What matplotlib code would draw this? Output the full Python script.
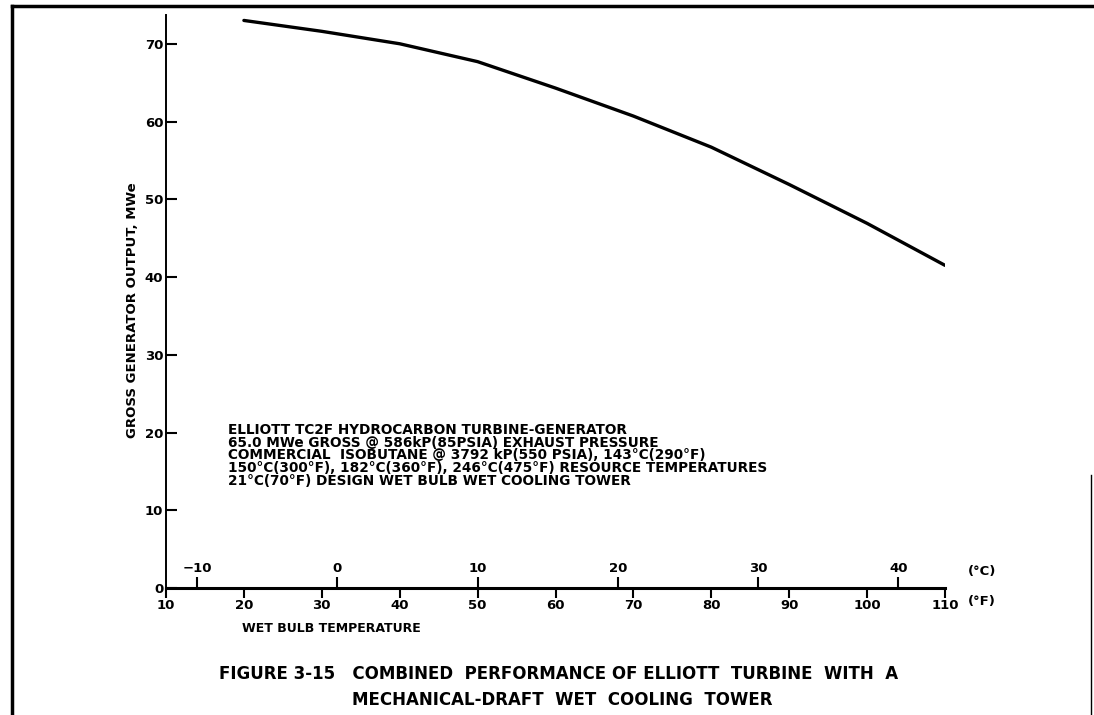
import numpy as np
import matplotlib
matplotlib.use('Agg')
import matplotlib.pyplot as plt
from matplotlib.lines import Line2D

# wet bulb temperature (F) and gross output (MWe)
temp_f = [20, 30, 40, 50, 60, 70, 80, 90, 100, 110]
output_mw = [73.0, 71.6, 70.0, 67.7, 64.3, 60.7, 56.7, 51.9, 46.9, 41.5]

f_ticks = [10, 20, 30, 40, 50, 60, 70, 80, 90, 100, 110]
c_ticks = [-10, 0, 10, 20, 30, 40]
y_ticks = [0, 10, 20, 30, 40, 50, 60, 70]

notes = [
    'ELLIOTT TC2F HYDROCARBON TURBINE-GENERATOR',
    '65.0 MWe GROSS @ 586kP(85PSIA) EXHAUST PRESSURE',
    'COMMERCIAL  ISOBUTANE @ 3792 kP(550 PSIA), 143\u00b0C(290\u00b0F)',
    '150\u00b0C(300\u00b0F), 182\u00b0C(360\u00b0F), 246\u00b0C(475\u00b0F) RESOURCE TEMPERATURES',
    '21\u00b0C(70\u00b0F) DESIGN WET BULB WET COOLING TOWER',
]
note_y = [430, 443, 455, 468, 481]


def f2c(f):
    return (np.asarray(f) - 32) / 1.8


fig = plt.figure(figsize=(10.94, 7.15), dpi=100)
ax = fig.add_axes([166 / 1094, 1 - 588 / 715, 779 / 1094, 573 / 715])

ax.plot(temp_f, output_mw, color='black', lw=2.4, solid_capstyle='round')

ax.set_xlim(10, 110)
ax.set_ylim(0, 73.7)
ax.spines['top'].set_visible(False)
ax.spines['right'].set_visible(False)
ax.spines['left'].set_linewidth(1.4)
ax.spines['bottom'].set_linewidth(2.2)

ax.set_xticks(f_ticks)
ax.set_yticks(y_ticks)
ax.tick_params(axis='x', direction='out', length=7, width=1.5, pad=1)
ax.tick_params(axis='y', direction='in', length=8, width=1.5, pad=2)
for lab in ax.get_xticklabels() + ax.get_yticklabels():
    lab.set_fontweight('bold')
    lab.set_fontsize(9.5)

# celsius scale on the same baseline
ax2 = ax.twiny()
ax2.set_xlim(f2c(10), f2c(110))
ax2.set_xticks(c_ticks)
ax2.spines['top'].set_position(('axes', 0))
for s in ['top', 'bottom', 'left', 'right']:
    ax2.spines[s].set_visible(False)
ax2.tick_params(axis='x', direction='out', length=8, width=1.5, pad=1)
for lab in ax2.get_xticklabels():
    lab.set_fontweight('bold')
    lab.set_fontsize(9.5)

fig.text(968 / 1094, 1 - 572 / 715, '(\u00b0C)', fontsize=9.5, fontweight='bold', va='center')
fig.text(968 / 1094, 1 - 602 / 715, '(\u00b0F)', fontsize=9.5, fontweight='bold', va='center')

fig.text(331 / 1094, 1 - 628 / 715, 'WET BULB TEMPERATURE', fontsize=9,
         fontweight='bold', ha='center', va='center')
fig.text(132 / 1094, 1 - 310 / 715, 'GROSS GENERATOR OUTPUT, MWe', fontsize=9.5,
         fontweight='bold', rotation=90, ha='center', va='center')

for y, line in zip(note_y, notes):
    fig.text(228 / 1094, 1 - y / 715, line, fontsize=9.8, fontweight='bold', va='center')

fig.text(219 / 1094, 1 - 674 / 715,
         'FIGURE 3-15   COMBINED  PERFORMANCE OF ELLIOTT  TURBINE  WITH  A',
         fontsize=12, fontweight='bold', va='center')
fig.text(352 / 1094, 1 - 700 / 715, 'MECHANICAL-DRAFT  WET  COOLING  TOWER',
         fontsize=12, fontweight='bold', va='center')

# page frame of the scanned figure
fig.add_artist(Line2D([12 / 1094, 12 / 1094], [0, 1 - 6 / 715], color='black', lw=2.5,
                      transform=fig.transFigure))
fig.add_artist(Line2D([12 / 1094, 1], [1 - 6 / 715, 1 - 6 / 715], color='black', lw=2.5,
                      transform=fig.transFigure))
fig.add_artist(Line2D([1091 / 1094, 1091 / 1094], [0, 1 - 475 / 715], color='black', lw=1,
                      transform=fig.transFigure))

fig.savefig('out.png', dpi=100)
